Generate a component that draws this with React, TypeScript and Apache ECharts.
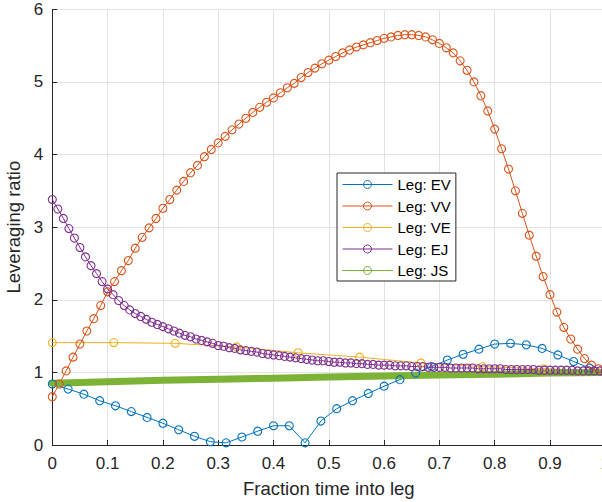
import React, { useEffect, useRef } from "react";
import * as echarts from "echarts";

// Series names
const seriesNames = ["Leg: EV", "Leg: VV", "Leg: VE", "Leg: EJ", "Leg: JS"];
const seriesColors = ["#0072BD", "#D95319", "#EDB120", "#7E2F8E", "#77AC30"];

// Leg: EV – 36 samples evenly spread over [0, 1]
const evValues = [
  0.84, 0.77, 0.70, 0.61, 0.54, 0.46, 0.38, 0.30, 0.21, 0.12, 0.045, 0.03,
  0.11, 0.19, 0.265, 0.265, 0.03, 0.33, 0.50, 0.61, 0.71, 0.81, 0.90, 0.99,
  1.08, 1.17, 1.25, 1.32, 1.39, 1.40, 1.38, 1.33, 1.24, 1.15, 1.06, 1.0,
];

// Leg: VV – 81 samples evenly spread over [0, 1]
const vvValues = [
  0.665, 0.84, 1.02, 1.21, 1.39, 1.57, 1.74, 1.92, 2.11, 2.25, 2.40, 2.54,
  2.71, 2.86, 2.99, 3.12, 3.26, 3.38, 3.51, 3.63, 3.75, 3.85, 3.97, 4.07,
  4.16, 4.25, 4.34, 4.42, 4.50, 4.58, 4.65, 4.72, 4.78, 4.85, 4.92, 4.98,
  5.06, 5.13, 5.19, 5.25, 5.30, 5.35, 5.40, 5.44, 5.48, 5.51, 5.54, 5.57,
  5.60, 5.62, 5.64, 5.65, 5.65, 5.64, 5.62, 5.58, 5.53, 5.47, 5.40, 5.29,
  5.16, 5.00, 4.81, 4.60, 4.35, 4.08, 3.80, 3.50, 3.19, 2.89, 2.60, 2.32,
  2.07, 1.83, 1.62, 1.46, 1.32, 1.19, 1.10, 1.05, 1.02,
];

// Leg: VE – 10 samples evenly spread over [0, 1]
const veValues = [1.41, 1.41, 1.40, 1.35, 1.27, 1.21, 1.13, 1.08, 1.05, 1.02];

// Leg: EJ – 101 samples evenly spread over [0, 1]
const ejValues = [
  3.38, 3.25, 3.12, 2.98, 2.85, 2.72, 2.59, 2.47, 2.36, 2.25, 2.15, 2.07,
  1.99, 1.92, 1.86, 1.81, 1.77, 1.73, 1.69, 1.66, 1.63, 1.60, 1.57, 1.54,
  1.51, 1.49, 1.46, 1.44, 1.42, 1.40, 1.37, 1.36, 1.34, 1.33, 1.31, 1.30,
  1.29, 1.28, 1.26, 1.25, 1.24, 1.23, 1.22, 1.21, 1.20, 1.19, 1.18, 1.17,
  1.16, 1.16, 1.15, 1.14, 1.14, 1.13, 1.13, 1.12, 1.12, 1.11, 1.11, 1.10,
  1.10, 1.10, 1.09, 1.09, 1.09, 1.08, 1.08, 1.08, 1.07, 1.07, 1.07, 1.07,
  1.06, 1.06, 1.06, 1.06, 1.06, 1.05, 1.05, 1.05, 1.05, 1.05, 1.04, 1.04,
  1.04, 1.04, 1.04, 1.04, 1.03, 1.03, 1.03, 1.03, 1.03, 1.03, 1.03, 1.02,
  1.02, 1.02, 1.02, 1.02, 1.02,
];

// Leg: JS – dense marker band, read at 11 evenly spaced positions over [0, 1]
const jsValues = [0.85, 0.87, 0.89, 0.905, 0.92, 0.935, 0.95, 0.965, 0.975, 0.99, 1.0];

// Axis ticks
const xTicks = { min: 0, max: 1, step: 0.1 };
const yTicks = { min: 0, max: 6, step: 1 };

const FONT = '"Liberation Sans", Arial, Helvetica, sans-serif';
const INK = "#262626";

function onGrid(values: number[]): [number, number][] {
  const n = values.length - 1;
  return values.map((v, i) => [i / n, v]);
}

export default function App() {
  const ref = useRef<HTMLDivElement>(null);

  useEffect(() => {
    if (!ref.current) return;
    const chart = echarts.init(ref.current, null, { renderer: "svg" });

    const markerSeries = (idx: number, values: number[]) => ({
      name: seriesNames[idx],
      type: "line",
      data: onGrid(values),
      symbol: "circle",
      symbolSize: 8,
      showSymbol: true,
      lineStyle: { color: seriesColors[idx], width: 1 },
      itemStyle: {
        color: "rgba(255,255,255,0)",
        borderColor: seriesColors[idx],
        borderWidth: 1.1,
      },
      emphasis: { disabled: true },
    });

    chart.setOption({
      animation: false,
      backgroundColor: "#ffffff",
      textStyle: { fontFamily: FONT },
      grid: {
        left: 52.3,
        right: -3.3,
        top: 9.3,
        bottom: 57,
        containLabel: false,
        outerBoundsMode: "none",
      },
      legend: {
        left: 337,
        top: 173,
        orient: "vertical",
        itemWidth: 50,
        itemHeight: 10,
        itemGap: 6.5,
        padding: [4, 5, 3, 5],
        borderColor: INK,
        borderWidth: 1,
        borderRadius: 0,
        backgroundColor: "#ffffff",
        selectedMode: false,
        textStyle: { fontSize: 15, fontFamily: FONT, color: "#000", lineHeight: 15 },
        lineStyle: { width: 1 },
        itemStyle: { borderWidth: 1 },
        data: seriesNames,
      },
      xAxis: {
        type: "value",
        min: xTicks.min,
        max: xTicks.max,
        interval: xTicks.step,
        name: "Fraction time into leg",
        nameLocation: "middle",
        nameGap: 34,
        nameTextStyle: { fontSize: 18.5, color: INK, fontFamily: FONT },
        axisLine: { show: true, onZero: false, lineStyle: { color: INK, width: 1 } },
        axisTick: { show: true, inside: true, length: 5, lineStyle: { color: INK } },
        axisLabel: { fontSize: 17, color: INK, margin: 10, fontFamily: FONT },
        splitLine: { show: true, lineStyle: { color: "#e2e2e2", width: 1 } },
      },
      yAxis: {
        type: "value",
        min: yTicks.min,
        max: yTicks.max,
        interval: yTicks.step,
        name: "Leveraging ratio",
        nameLocation: "middle",
        nameGap: 20,
        nameTextStyle: { fontSize: 18.5, color: INK, fontFamily: FONT },
        axisLine: { show: true, onZero: false, lineStyle: { color: INK, width: 1 } },
        axisTick: { show: true, inside: true, length: 5, lineStyle: { color: INK } },
        axisLabel: { fontSize: 17, color: INK, margin: 9, fontFamily: FONT },
        splitLine: { show: true, lineStyle: { color: "#e2e2e2", width: 1 } },
      },
      series: [
        markerSeries(0, evValues),
        markerSeries(1, vvValues),
        markerSeries(2, veValues),
        markerSeries(3, ejValues),
        {
          name: seriesNames[4],
          type: "line",
          data: onGrid(jsValues),
          symbol: "circle",
          symbolSize: 8,
          showSymbol: false,
          lineStyle: { color: "#7cb236", width: 7, cap: "round" },
          itemStyle: {
            color: "rgba(255,255,255,0)",
            borderColor: seriesColors[4],
            borderWidth: 1.1,
          },
          emphasis: { disabled: true },
        },
      ],
    });

    return () => chart.dispose();
  }, []);

  return (
    <div
      ref={ref}
      style={{ position: "fixed", left: 0, top: 0, width: 602, height: 502 }}
    />
  );
}
